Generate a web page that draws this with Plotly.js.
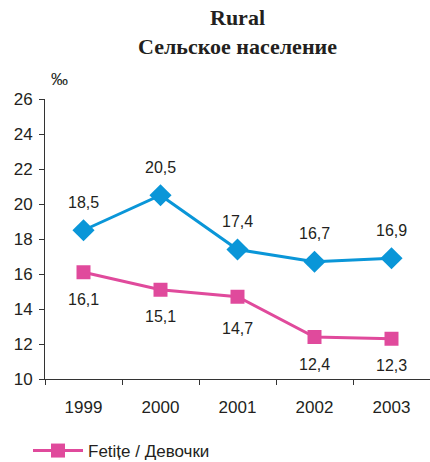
<!DOCTYPE html>
<html>
<head>
<meta charset="utf-8">
<script src="https://cdn.plot.ly/plotly-3.0.1.min.js"></script>
<style>html,body{margin:0;padding:0;background:#fff;}#chart{width:430px;height:462px;}</style>
</head>
<body>
<div id="chart"></div>
<script>
const years = ['1999', '2000', '2001', '2002', '2003'];
const boys = [18.5, 20.5, 17.4, 16.7, 16.9];
const girls = [16.1, 15.1, 14.7, 12.4, 12.3];
const boysName = 'Băieți / Мальчики';
const girlsName = 'Fetițe / Девочки';
const yTicks = [10, 12, 14, 16, 18, 20, 22, 24, 26];

const fmt = v => v.toFixed(1).replace('.', ',');
const blue = '#0a96d8';
const pink = '#e04a9c';
const txt = '#231f20';
const sans = 'Liberation Sans, Arial';

const traces = [
  {
    x: years, y: boys, name: boysName, type: 'scatter', mode: 'lines+markers',
    line: {color: blue, width: 3},
    marker: {symbol: 'diamond', size: 17, color: blue},
    showlegend: false, cliponaxis: false
  },
  {
    x: years, y: girls, name: girlsName, type: 'scatter', mode: 'lines+markers',
    line: {color: pink, width: 3},
    marker: {symbol: 'square', size: 14, color: pink},
    cliponaxis: false
  }
];

const annotations = [];
years.forEach((yr, i) => {
  annotations.push({x: i, y: boys[i], xref: 'x', yref: 'y', text: fmt(boys[i]),
    showarrow: false, yshift: 28, font: {family: sans, size: 16, color: txt}});
  annotations.push({x: i, y: girls[i], xref: 'x', yref: 'y', text: fmt(girls[i]),
    showarrow: false, yshift: i === 2 ? -32 : -27, font: {family: sans, size: 16, color: txt}});
});
annotations.push({
  x: (49 - 45) / 385, y: 1 + (99 - 68) / 280, xref: 'x domain', yref: 'y domain',
  text: '‰', showarrow: false, font: {family: sans, size: 17, color: txt}
});

const layout = {
  width: 430, height: 462,
  margin: {l: 45, r: 0, t: 99, b: 83},
  paper_bgcolor: '#fff', plot_bgcolor: '#fff',
  font: {family: sans, size: 16, color: txt},
  title: {
    text: '<b>Rural</b><br><b>Сельское население</b>',
    font: {family: 'Liberation Serif, Times New Roman', size: 22, color: txt},
    x: 0.5, xref: 'paper', y: 0.945, yref: 'container', yanchor: 'top'
  },
  xaxis: {
    type: 'category', range: [-0.5, 4.5], showgrid: false, zeroline: false,
    showline: true, linecolor: '#333', linewidth: 1,
    ticks: 'outside', tickson: 'boundaries', ticklen: 5, tickcolor: '#333',
    tickfont: {size: 17, color: txt}, ticklabelstandoff: 13
  },
  yaxis: {
    range: [10, 26], tickvals: yTicks, showgrid: false, zeroline: false,
    showline: true, linecolor: '#333', linewidth: 1,
    ticks: 'outside', ticklen: 5, tickcolor: '#333',
    tickfont: {size: 17, color: txt}, ticklabelstandoff: 3
  },
  showlegend: true,
  legend: {
    orientation: 'h', xref: 'container', yref: 'container',
    x: 28 / 430, y: 1 - 433 / 462, xanchor: 'left', yanchor: 'top',
    font: {size: 17, color: txt}, itemwidth: 50
  },
  annotations: annotations
};

Plotly.newPlot('chart', traces, layout, {displayModeBar: false, staticPlot: true});
</script>
</body>
</html>
